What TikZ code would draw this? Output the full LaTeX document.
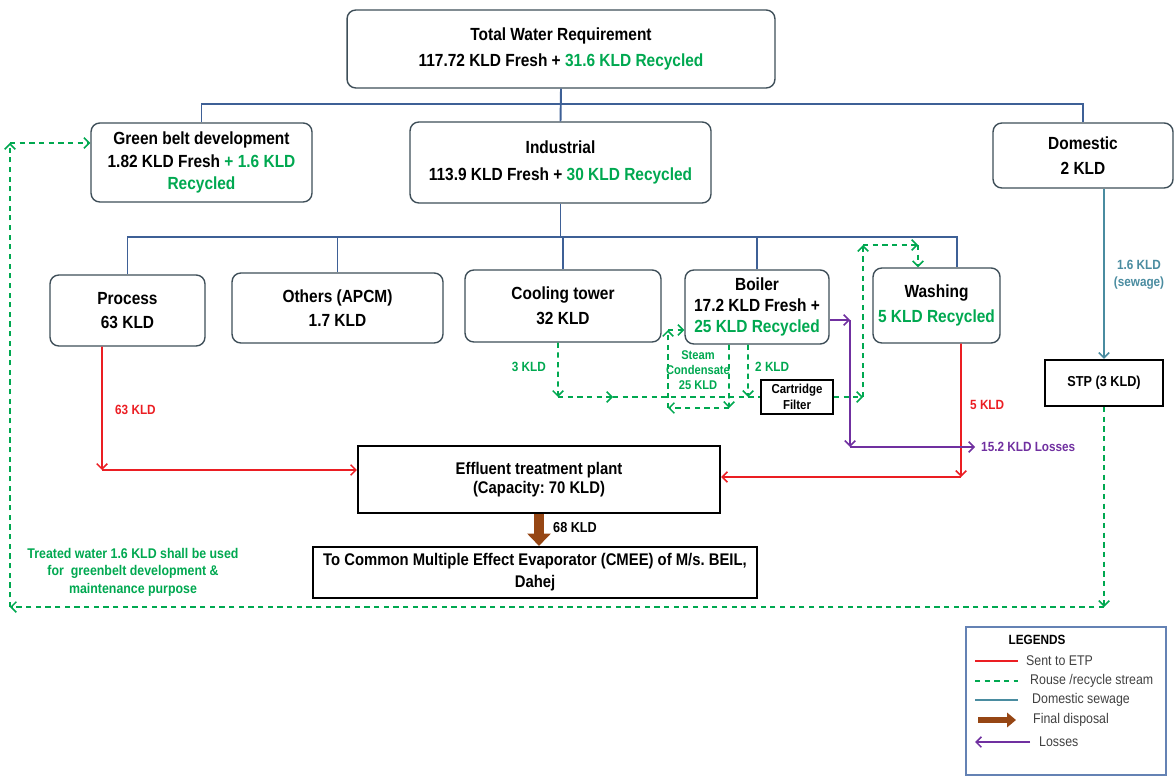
\documentclass[tikz,border=0pt]{standalone}
\usepackage{fontspec}
\setmainfont{Liberation Sans}[FakeStretch=0.88]
\usetikzlibrary{arrows.meta}
\usetikzlibrary{positioning}
\definecolor{boxgray}{RGB}{62,78,88}
\definecolor{busblue}{RGB}{62,96,150}
\definecolor{green1}{RGB}{0,168,80}
\definecolor{red1}{RGB}{235,30,35}
\definecolor{teal1}{RGB}{74,140,160}
\definecolor{purple1}{RGB}{112,48,160}
\definecolor{brown1}{RGB}{150,70,20}
\definecolor{legendblue}{RGB}{100,130,180}
\frenchspacing
\tikzset{
	>={Straight Barb[length=3pt,width=6pt]},
	box/.style={draw=boxgray,thick,rounded corners=5pt,align=center,inner sep=2pt,font=\bfseries\fontsize{10}{14}\selectfont},
	plainbox/.style={draw=black,line width=1.2pt,align=center,inner sep=2pt,font=\bfseries\fontsize{9.6}{12.5}\selectfont},
	bus/.style={draw=busblue,line width=1.1pt},
	etpline/.style={draw=red1,line width=0.9pt},
	recycle/.style={draw=green1,line width=0.9pt,dash pattern=on 3pt off 2.5pt},
	sewage/.style={draw=teal1,line width=0.9pt},
	loss/.style={draw=purple1,line width=0.9pt},
	disposal/.style={draw=brown1,line width=6pt,-{Triangle[length=7pt,width=13pt]}},
	lbl/.style={font=\bfseries\fontsize{7.6}{9.5}\selectfont,align=center},
	legtext/.style={font=\fontsize{8}{9}\selectfont,anchor=west,text=black!75},
}

\begin{document}
\begin{tikzpicture}[x=0.02cm,y=-0.02cm]

	%%% Canvas
	\useasboundingbox (0,0) rectangle (1175,776);

	%%% Top level
	\node[box,minimum width=8.56cm,minimum height=1.56cm,font=\bfseries\fontsize{10}{15}\selectfont] (total) at (561,49) {Total Water Requirement\\117.72 KLD Fresh + \textcolor{green1}{31.6 KLD Recycled}};
	\node[box,minimum width=4.42cm,minimum height=1.58cm,font=\bfseries\fontsize{10}{13}\selectfont] (green) at (201.5,162.5) {Green belt development\\1.82 KLD Fresh \textcolor{green1}{+ 1.6 KLD}\\\textcolor{green1}{Recycled}};
	\node[box,minimum width=6.02cm,minimum height=1.62cm,font=\bfseries\fontsize{10}{15}\selectfont] (industrial) at (560.5,162.5) {Industrial\\113.9 KLD Fresh + \textcolor{green1}{30 KLD Recycled}};
	\node[box,minimum width=3.6cm,minimum height=1.3cm] (domestic) at (1083,155.5) {Domestic\\2 KLD};

	%%% Industrial users
	\node[box,minimum width=3.1cm,minimum height=1.42cm] (process) at (127.5,310.5) {Process\\63 KLD};
	\node[box,minimum width=4.22cm,minimum height=1.4cm] (others) at (337.5,308) {Others (APCM)\\1.7 KLD};
	\node[box,minimum width=3.92cm,minimum height=1.44cm] (cooling) at (563,306) {Cooling tower\\32 KLD};
	\node[box,minimum width=2.88cm,minimum height=1.48cm,font=\bfseries\fontsize{10}{12}\selectfont] (boiler) at (757,307) {Boiler\\17.2 KLD Fresh +\\\textcolor{green1}{25 KLD Recycled}};
	\node[box,minimum width=2.54cm,minimum height=1.5cm] (washing) at (936.5,305.5) {Washing\\\textcolor{green1}{5 KLD Recycled}};

	%%% Treatment units
	\node[plainbox,minimum width=2.36cm,minimum height=0.92cm,font=\bfseries\fontsize{8.2}{10}\selectfont] (stp) at (1104,383) {STP (3 KLD)};
	\node[plainbox,line width=1pt,minimum width=1.44cm,minimum height=0.68cm,inner sep=1pt,font=\bfseries\fontsize{7.4}{9.5}\selectfont] (filter) at (797,397) {Cartridge\\Filter};
	\node[plainbox,minimum width=7.24cm,minimum height=1.34cm,font=\bfseries\fontsize{9.6}{10.8}\selectfont] (etp) at (539,479.5) {Effluent treatment plant\\(Capacity: 70 KLD)};
	\node[plainbox,minimum width=8.88cm,minimum height=1.02cm] (cmee) at (535,572.5) {To Common Multiple Effect Evaporator (CMEE) of M/s. BEIL,\\Dahej};

	%%% Distribution lines
	\coordinate (busA) at (562,104);
	\coordinate (busB) at (562,237);
	\draw[bus] (total.south) -- (industrial.north);
	\draw[bus] (green.north) |- (busA) -| (domestic.north);
	\draw[bus] (industrial.south) -- (industrial.south |- busB);
	\draw[bus] (process.north) |- (busB) -| ([xshift=0.41cm]washing.north);
	\foreach \n in {others,cooling,boiler}
		\draw[bus] (\n.north) -- (\n.north |- busB);

	%%% Effluent to ETP
	\coordinate (procturn) at (102,470);
	\coordinate (washturn) at (961,477);
	\draw[etpline,->] ([xshift=-0.51cm]process.south) -- (procturn);
	\draw[etpline,->] (procturn) -- (procturn -| etp.west);
	\draw[etpline,->] ([xshift=0.49cm]washing.south) -- (washturn);
	\draw[etpline,->] (washturn) -- (washturn -| etp.east);
	\node[lbl,red1,anchor=west] (lblproc) at (109,410) {63 KLD};
	\node[lbl,red1,anchor=west] (lblwash) at (964,405) {5 KLD};

	%%% Final disposal
	\draw[disposal] (etp.south) -- (etp.south |- cmee.north);
	\node[lbl,anchor=west,font=\bfseries\fontsize{8.2}{9}\selectfont] (lbldisp) at (547,528) {68 KLD};

	%%% Domestic sewage
	\draw[sewage,->] (domestic.south -| stp.north) -- (stp.north);
	\node[lbl,teal1] (lblsew) at (1139,275) {1.6 KLD\\(sewage)};

	%%% Treated water back to green belt
	\coordinate (rbot) at (1104,607);
	\coordinate (lbot) at (10,607);
	\coordinate (ltop) at (10,143);
	\draw[recycle,->] (stp.south) -- (rbot);
	\draw[recycle,->] (rbot) -- (lbot);
	\draw[recycle,->] (lbot) -- (ltop);
	\draw[recycle,->] (ltop) -- (ltop -| green.west);
	\node[lbl,green1,font=\bfseries\fontsize{8}{10}\selectfont] (lbltreat) at (133,572) {Treated water 1.6 KLD shall be used\\for\ \ greenbelt development \&\\maintenance purpose};

	%%% Cooling tower and boiler blowdown to washing
	\coordinate (ctturn) at (558,397);
	\coordinate (ctmid) at (613,397);
	\coordinate (bturn) at (748,397);
	\coordinate (fturn) at (863,397);
	\coordinate (wtop) at (863,245);
	\coordinate (wright) at (918,245);
	\draw[recycle,->] ([xshift=-0.1cm]cooling.south) -- (ctturn);
	\draw[recycle,->] (ctturn) -- (ctmid);
	\draw[recycle] (ctmid) -- (filter.west);
	\draw[recycle,->] ([xshift=-0.18cm]boiler.south) -- (bturn);
	\draw[recycle,->] (filter.east) -- (fturn);
	\draw[recycle,->] (fturn) -- (wtop);
	\draw[recycle,->] (wtop) -- (wright);
	\draw[recycle,->] (wright) -- (wright |- washing.north);
	\node[lbl,green1,anchor=east] (lblct) at (552,367) {3 KLD};
	\node[lbl,green1,anchor=west] (lblboil) at (749,367) {2 KLD};

	%%% Steam condensate loop
	\coordinate (scorner) at (729,408);
	\coordinate (sleft) at (668,408);
	\coordinate (sup) at (668,330);
	\draw[recycle,->] ([xshift=-0.56cm]boiler.south) -- (scorner);
	\draw[recycle,->] (scorner) -- (sleft);
	\draw[recycle,->] (sleft) -- (sup);
	\draw[recycle,->] (sup) -- (sup -| boiler.west);
	\node[lbl,green1,font=\bfseries\fontsize{7.2}{8.5}\selectfont] (lblsteam) at (698,370) {Steam\\Condensate\\25 KLD};

	%%% Losses
	\coordinate (pturn) at (850,320);
	\coordinate (pbot) at (850,447);
	\node[lbl,purple1,anchor=west] (losses) at (975,447) {15.2 KLD Losses};
	\draw[loss,->] (boiler.east |- pturn) -- (pturn);
	\draw[loss,->] (pturn) -- (pbot);
	\draw[loss,->] (pbot) -- (losses.west);

	%%% Legend
	\draw[draw=legendblue,thick] (966,627) rectangle (1166,775);
	\node[font=\bfseries\fontsize{7.6}{8}\selectfont] (legtitle) at (1037,640) {LEGENDS};
	\draw[etpline] (975,661) -- (1018,661);
	\node[legtext] (legetp) at (1020,661) {Sent to ETP};
	\draw[recycle,line width=1.3pt] (975,681) -- (1018,681);
	\node[legtext] (legrec) at (1024,681) {Rouse /recycle stream};
	\draw[sewage,line width=1.3pt] (975,700) -- (1018,700);
	\node[legtext] (legsew) at (1026,700) {Domestic sewage};
	\draw[draw=brown1,line width=3.5pt,-{Triangle[length=5pt,width=8pt]}] (978,720) -- (1016,720);
	\node[legtext] (legdisp) at (1027,720) {Final disposal};
	\draw[loss,->] (1030,742) -- (975,742);
	\node[legtext] (legloss) at (1033,742) {Losses};

\end{tikzpicture}
\end{document}
